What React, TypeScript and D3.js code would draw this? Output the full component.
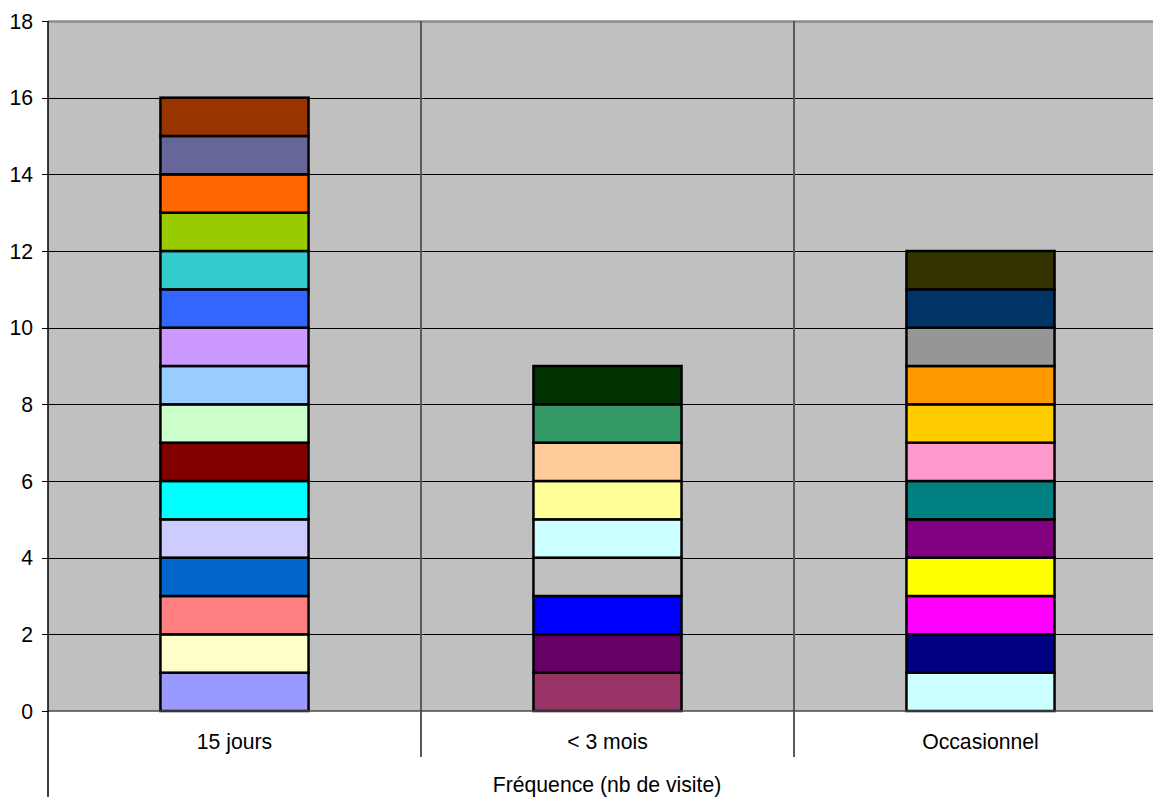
import React from "react";
import * as d3 from "d3";

const categories = ["15 jours", "< 3 mois", "Occasionnel"];

// each stacked segment is worth 1 visitor (bottom to top)
const valuesJours = [1, 1, 1, 1, 1, 1, 1, 1, 1, 1, 1, 1, 1, 1, 1, 1];
const valuesMois = [1, 1, 1, 1, 1, 1, 1, 1, 1];
const valuesOcc = [1, 1, 1, 1, 1, 1, 1, 1, 1, 1, 1, 1];

const colorsJours = [
  "#9999FF", "#FFFFCC", "#FF8080", "#0066CC", "#CCCCFF", "#00FFFF", "#800000", "#CCFFCC",
  "#99CCFF", "#CC99FF", "#3366FF", "#33CCCC", "#99CC00", "#FF6600", "#666699", "#993300",
];
const colorsMois = [
  "#993366", "#660066", "#0000FF", "#C0C0C0", "#CCFFFF", "#FFFF99", "#FFCC99", "#339966", "#003300",
];
const colorsOcc = [
  "#CCFFFF", "#000080", "#FF00FF", "#FFFF00", "#800080", "#008080", "#FF99CC", "#FFCC00",
  "#FF9900", "#969696", "#003366", "#333300",
];

const yTicks = [0, 2, 4, 6, 8, 10, 12, 14, 16, 18];
const axisTitle = "Fréquence (nb de visite)";

const seriesByCategory = [
  { values: valuesJours, colors: colorsJours },
  { values: valuesMois, colors: colorsMois },
  { values: valuesOcc, colors: colorsOcc },
];

export default function App() {
  const W = 1153;
  const H = 797;
  const left = 48;
  const right = 1167;
  const top = 21;
  const bottom = 711;
  const font = "Liberation Sans, Arial, sans-serif";
  const fs = 21.2;

  const x = d3.scaleBand<string>().domain(categories).range([left, right]).paddingInner(0).paddingOuter(0);
  const y = d3.scaleLinear().domain([0, 18]).range([bottom, top]);
  const bw = x.bandwidth();
  const barW = bw * 0.397;

  return (
    <svg width={W} height={H} style={{ position: "absolute", left: 0, top: 0, background: "#fff" }}>
      <rect x={left} y={top} width={right - left} height={bottom - top} fill="#C0C0C0" />
      <line x1={left} x2={right} y1={top + 0.5} y2={top + 0.5} stroke="#8c8c8c" strokeWidth={2.5} />
      {yTicks.slice(1, -1).map((t) => (
        <line key={t} x1={left} x2={right} y1={Math.round(y(t)) + 0.5} y2={Math.round(y(t)) + 0.5} stroke="#000" strokeWidth={1} />
      ))}
      {categories.slice(1).map((c) => (
        <line key={c} x1={x(c)!} x2={x(c)!} y1={top} y2={757} stroke="#5a5a5a" strokeWidth={2} />
      ))}
      {seriesByCategory.map((s, ci) => {
        const cx = x(categories[ci])! + (bw - barW) / 2;
        let acc = 0;
        return (
          <g key={ci}>
            {s.values.map((v, i) => {
              const y0 = acc;
              acc += v;
              return (
                <rect
                  key={i}
                  x={cx}
                  y={y(acc)}
                  width={barW}
                  height={y(y0) - y(acc)}
                  fill={s.colors[i]}
                  stroke="#000"
                  strokeWidth={2.5}
                />
              );
            })}
          </g>
        );
      })}
      <line x1={left} x2={right} y1={bottom} y2={bottom} stroke="#4a4a4a" strokeWidth={1.5} />
      <line x1={left} x2={left} y1={top} y2={H} stroke="#000" strokeWidth={1.5} />
      {yTicks.map((t) => (
        <g key={t}>
          <line x1={42} x2={left} y1={Math.round(y(t)) + 0.5} y2={Math.round(y(t)) + 0.5} stroke="#000" strokeWidth={1} />
          <text x={33} y={y(t)} dy="0.36em" textAnchor="end" fontFamily={font} fontSize={fs} fill="#000">
            {t}
          </text>
        </g>
      ))}
      {categories.map((c) => (
        <text key={c} x={x(c)! + bw / 2} y={749} textAnchor="middle" fontFamily={font} fontSize={fs} fill="#000">
          {c}
        </text>
      ))}
      <text x={607} y={792} textAnchor="middle" fontFamily={font} fontSize={fs} fill="#000">
        {axisTitle}
      </text>
    </svg>
  );
}
